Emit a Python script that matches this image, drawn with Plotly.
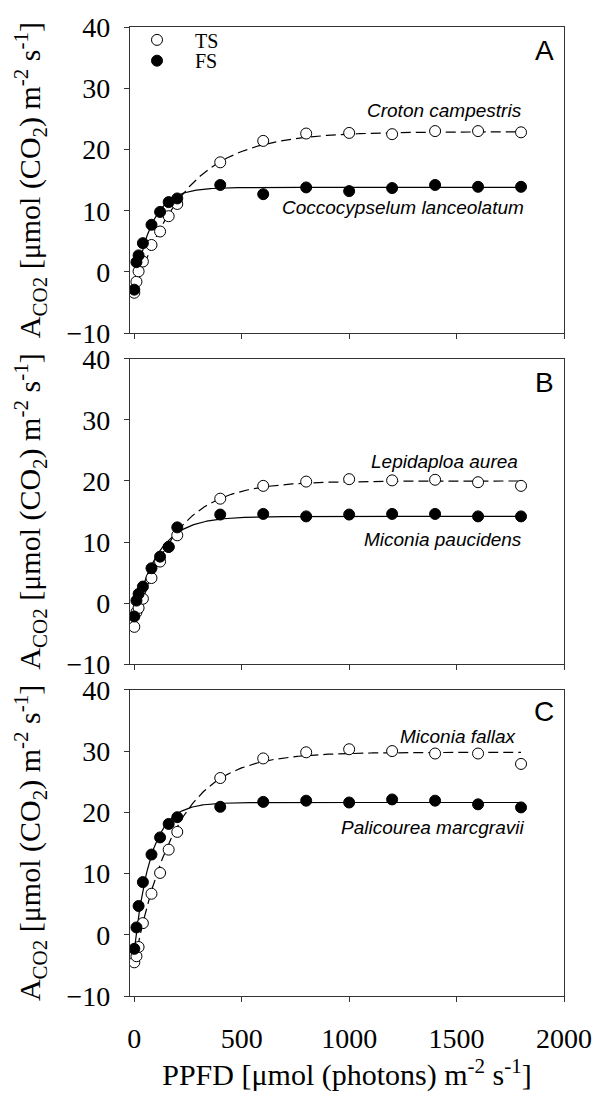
import numpy as np
import plotly.graph_objects as go
from plotly.subplots import make_subplots

# ---- data ----
ppfd = [0, 10, 20, 40, 80, 120, 160, 200, 400, 600, 800, 1000, 1200, 1400, 1600, 1800]

a_ts = [-3.4, -1.6, 0.1, 1.7, 4.4, 6.6, 9.1, 11.1, 17.9, 21.4, 22.6, 22.7, 22.5, 23.0, 23.0, 22.8]
a_fs = [-2.9, 1.6, 2.7, 4.7, 7.7, 9.8, 11.4, 12.0, 14.2, 12.7, 13.8, 13.2, 13.7, 14.2, 13.9, 13.9]
b_ts = [-3.9, -1.5, -0.8, 0.7, 4.1, 6.8, 9.2, 11.1, 17.1, 19.2, 19.9, 20.3, 20.1, 20.2, 19.8, 19.2]
b_fs = [-2.2, 0.4, 1.5, 2.7, 5.7, 7.6, 9.2, 12.4, 14.5, 14.6, 14.2, 14.5, 14.6, 14.6, 14.2, 14.2]
c_ts = [-4.5, -3.5, -2.0, 1.9, 6.7, 10.1, 13.9, 16.8, 25.6, 28.8, 29.8, 30.3, 30.0, 29.6, 29.6, 27.9]
c_fs = [-2.3, 1.2, 4.7, 8.6, 13.1, 15.9, 18.1, 19.2, 20.9, 21.7, 21.9, 21.6, 22.1, 21.9, 21.3, 20.8]

# fitted light-response curves: A = (Amax + Rd)(1 - exp(-k I)) - Rd
fit_rd = {"a_ts": 3.4, "a_fs": 2.9, "b_ts": 3.9, "b_fs": 2.2, "c_ts": 4.5, "c_fs": 2.5}
fit_amax = {"a_ts": 22.9, "a_fs": 13.8, "b_ts": 20.0, "b_fs": 14.2, "c_ts": 29.8, "c_fs": 21.6}
fit_k = {"a_ts": 0.0042, "a_fs": 0.0126, "b_ts": 0.0053, "b_fs": 0.0090, "c_ts": 0.0052, "c_fs": 0.0129}

species = {
    "a_ts": "Croton campestris", "a_fs": "Coccocypselum lanceolatum",
    "b_ts": "Lepidaploa aurea", "b_fs": "Miconia paucidens",
    "c_ts": "Miconia fallax", "c_fs": "Palicourea marcgravii",
}
groups = ["TS", "FS"]
panel_letters = ["A", "B", "C"]
x_ticks = [0, 500, 1000, 1500, 2000]
y_ticks = [-10, 0, 10, 20, 30, 40]

# ---- layout geometry ----
W, H = 605, 1100
L, R, T, B = 130, 564, 18, 996


def pxx(p):
    return (p - L) / (R - L)


def pxy(p):
    return (B - p) / (B - T)


panels = [(18, 327), (353, 661), (687, 996)]

fig = make_subplots(rows=3, cols=1)

series = [("a_ts", a_ts, "a_fs", a_fs), ("b_ts", b_ts, "b_fs", b_fs), ("c_ts", c_ts, "c_fs", c_fs)]
curve_x = np.linspace(0, 1800, 300)

for i, (kt, yt, kf, yf) in enumerate(series):
    row = i + 1
    for key, dash in ((kt, "10px,5px"), (kf, "solid")):
        rd, am, k = fit_rd[key], fit_amax[key], fit_k[key]
        cy = (am + rd) * (1 - np.exp(-k * curve_x)) - rd
        fig.add_trace(go.Scatter(x=curve_x, y=cy, mode="lines",
                                 line=dict(color="black", width=1.2, dash=dash),
                                 showlegend=False, hoverinfo="skip"), row=row, col=1)
    fig.add_trace(go.Scatter(x=ppfd, y=yt, mode="markers", name=groups[0],
                             marker=dict(symbol="circle", size=11, color="white",
                                         line=dict(color="black", width=1)),
                             showlegend=(i == 0), legend="legend"), row=row, col=1)
    fig.add_trace(go.Scatter(x=ppfd, y=yf, mode="markers", name=groups[1],
                             marker=dict(symbol="circle", size=11, color="black",
                                         line=dict(color="black", width=1)),
                             showlegend=(i == 0), legend="legend2"), row=row, col=1)

ytitle = "A<sub>CO2</sub> [μmol (CO<sub>2</sub>) m<sup>-2</sup> s<sup>-1</sup>]"
axis_common = dict(showline=True, linecolor="#333", linewidth=1.3, mirror=True,
                   ticks="outside", ticklen=5, tickcolor="#333", tickwidth=1.3,
                   showgrid=False, zeroline=False,
                   tickfont=dict(family="Liberation Serif", size=28, color="black"))

for i, (top, bot) in enumerate(panels):
    n = "" if i == 0 else str(i + 1)
    fig.layout["yaxis" + n].update(
        domain=[pxy(bot), pxy(top)], range=[-10, 40], tickvals=y_ticks,
        title=dict(text=ytitle, font=dict(family="Liberation Serif", size=30, color="black"),
                   standoff=16),
        ticklabelstandoff=8, **axis_common)
    fig.layout["xaxis" + n].update(
        range=[-20, 2000], tickvals=x_ticks, showticklabels=(i == 2),
        ticklabelstandoff=12, **axis_common)

fig.layout.xaxis3.title = dict(text="PPFD [μmol (photons) m<sup>-2</sup> s<sup>-1</sup>]",
                               font=dict(family="Liberation Serif", size=30, color="black"),
                               standoff=8)

ann = []
label_pos = {"a_ts": (524, 102), "a_fs": (526, 200),
             "b_ts": (520, 457), "b_fs": (524, 535),
             "c_ts": (519, 734), "c_fs": (526, 826)}
for key, (px_, py_) in label_pos.items():
    ann.append(dict(text="<i>" + species[key] + "</i>", x=pxx(px_), y=pxy(py_),
                    xref="paper", yref="paper", xanchor="right", yanchor="middle",
                    showarrow=False,
                    font=dict(family="Liberation Sans", size=19, color="black")))
for letter, py_ in zip(panel_letters, [42, 377, 709]):
    ann.append(dict(text=letter, x=pxx(544), y=pxy(py_), xref="paper", yref="paper",
                    xanchor="center", yanchor="middle", showarrow=False,
                    font=dict(family="Liberation Sans", size=28, color="black")))

# wide symbol slot so the text sits well right of the marker, as in the reference
legend_common = dict(font=dict(family="Liberation Serif", size=20, color="black"),
                     bgcolor="rgba(0,0,0,0)", xanchor="left", yanchor="middle",
                     borderwidth=0, itemwidth=66)
fig.update_layout(
    width=W, height=H,
    margin=dict(l=L, r=W - R, t=T, b=H - B),
    plot_bgcolor="white", paper_bgcolor="white",
    annotations=ann,
    legend=dict(x=pxx(119), y=pxy(31), **legend_common),
    legend2=dict(x=pxx(119), y=pxy(52), **legend_common),
)

fig.write_html("out.html")
